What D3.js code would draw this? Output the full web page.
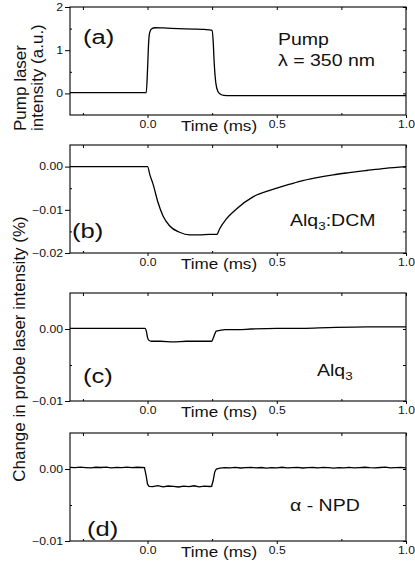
<!DOCTYPE html>
<html>
<head>
<meta charset="utf-8">
<script src="https://cdn.jsdelivr.net/npm/d3@7"></script>
<style>
body { margin: 0; background: #fff; }
svg { display: block; font-family: "Liberation Sans", Arial, sans-serif; }
</style>
</head>
<body>
<div id="chart"></div>
<script>

// shared time axis (ms)
var timeTicks = [0, 0.5, 1.0]
var timeMinor = [-0.25, 0.25, 0.75]

// (a) pump laser intensity, a.u.
var pumpT = [-0.3, -0.005, 0.0, 0.004, 0.008, 0.015, 0.03, 0.06, 0.12, 0.18, 0.22, 0.25, 0.254, 0.258, 0.264, 0.272, 0.282, 0.295, 0.32, 0.5, 1.0]
var pumpV = [0.02, 0.02, 0.55, 1.15, 1.4, 1.49, 1.52, 1.515, 1.5, 1.49, 1.48, 1.46, 1.2, 0.7, 0.25, 0.05, -0.02, -0.045, -0.05, -0.05, -0.05]

// (b) Alq3:DCM
var dcmT = [-0.3, 0.0, 0.01, 0.021, 0.04, 0.059, 0.085, 0.124, 0.163, 0.2, 0.24, 0.268, 0.279, 0.305, 0.344, 0.408, 0.473, 0.538, 0.589, 0.65, 0.718, 0.78, 0.848, 0.92, 1.0]
var dcmV = [0.0, 0.0, -0.0021, -0.004, -0.0082, -0.0113, -0.0137, -0.0152, -0.0158, -0.0158, -0.0157, -0.0157, -0.0144, -0.0121, -0.0098, -0.007, -0.0055, -0.0043, -0.0034, -0.0026, -0.0019, -0.0014, -0.0009, -0.0004, 0.0]

// (c) Alq3
var alqT = [-0.3, -0.2, -0.1, -0.01, -0.004, 0.0, 0.006, 0.015, 0.05, 0.1, 0.15, 0.2, 0.248, 0.254, 0.26, 0.266, 0.28, 0.3, 0.35, 0.4, 0.5, 0.6, 0.7, 0.85, 1.0]
var alqV = [0.0001, 0.0001, 0.0001, 0.0001, -0.0004, -0.0012, -0.0016, -0.0017, -0.0017, -0.0018, -0.0017, -0.0017, -0.0017, -0.0013, -0.0007, -0.0003, -0.0002, -0.0001, -0.0001, 0.0, 0.0001, 0.0001, 0.0002, 0.0003, 0.0003]

// (d) alpha-NPD
var npdT = [-0.3, -0.28, -0.26, -0.24, -0.22, -0.2, -0.18, -0.16, -0.14, -0.12, -0.1, -0.08, -0.06, -0.04, -0.02, -0.012,
    -0.006, 0.0, 0.006,
    0.02, 0.04, 0.06, 0.08, 0.1, 0.12, 0.14, 0.16, 0.18, 0.2, 0.22, 0.24,
    0.248, 0.254, 0.26, 0.266,
    0.28, 0.3, 0.32, 0.34, 0.36, 0.38, 0.4, 0.42, 0.44, 0.46, 0.48, 0.5, 0.52, 0.54, 0.56, 0.58, 0.6, 0.62, 0.64,
    0.66, 0.68, 0.7, 0.72, 0.74, 0.76, 0.78, 0.8, 0.82, 0.84, 0.86, 0.88, 0.9, 0.92, 0.94, 0.96, 0.98, 1.0]
var npdV = [0.00022, 0.00018, 0.00026, 0.0002, 0.00015, 0.00024, 0.00021, 0.00027, 0.00017, 0.00023, 0.0002, 0.00025, 0.00019, 0.00024, 0.00021, 0.0002,
    -0.0008, -0.0021, -0.0024,
    -0.00245, -0.0023, -0.00248, -0.00236, -0.00242, -0.0025, -0.00238, -0.00244, -0.00233, -0.00247, -0.00239, -0.00243,
    -0.0024, -0.0016, -0.0004, 0.0,
    0.00012, 0.0002, 0.00015, 0.00022, 0.00014, 0.00019, 0.00023, 0.00016, 0.00021, 0.00013, 0.0002, 0.00017, 0.00024, 0.00015, 0.00019, 0.00022, 0.00014, 0.00018, 0.00021,
    0.00016, 0.00023, 0.00019, 0.00012, 0.0002, 0.00017, 0.00022, 0.00015, 0.00019, 0.00024, 0.00018, 0.00016, 0.00021, 0.00026, 0.00017, 0.0002, 0.00023, 0.00016]

// y axes
var pumpTicks = [0, 1, 2], pumpMinor = [0.5, 1.5]
var dcmTicks = [-0.02, -0.01, 0.0], dcmMinor = [-0.015, -0.005]
var smallTicks = [-0.01, 0.0], smallMinor = [-0.005]

var width = 415
var height = 563
var left = 70, right = 406, panelH = 108
var stretch = 1.22   // the scan is wide, text looks stretched sideways

var panels = [
    {top: 7, t: pumpT, v: pumpV, dom: [-0.5, 2], ticks: pumpTicks, minor: pumpMinor, fmt: d3.format("d"), curve: d3.curveMonotoneX,
        tag: "(a)", tagX: 83, tagY: 44},
    {top: 145, t: dcmT, v: dcmV, dom: [-0.02, 0.005], ticks: dcmTicks, minor: dcmMinor, fmt: d3.format(".2f"), curve: d3.curveMonotoneX,
        tag: "(b)", tagX: 72, tagY: 238},
    {top: 293, t: alqT, v: alqV, dom: [-0.01, 0.005], ticks: smallTicks, minor: smallMinor, fmt: d3.format(".2f"), curve: d3.curveMonotoneX,
        tag: "(c)", tagX: 83, tagY: 383},
    {top: 433, t: npdT, v: npdV, dom: [-0.01, 0.005], ticks: smallTicks, minor: smallMinor, fmt: d3.format(".2f"), curve: d3.curveLinear,
        tag: "(d)", tagX: 87, tagY: 536}
]

var svg = d3.select("#chart").append("svg")
    .attr("width", width)
    .attr("height", height)

var x = d3.scaleLinear().domain([-0.3, 1.0]).range([left, right])

function wideText(g, str, px, py, size, anchor) {
    return g.append("text")
        .attr("transform", "translate(" + px + "," + py + ") scale(" + stretch + ",1)")
        .attr("font-size", size)
        .attr("text-anchor", anchor || "start")
        .attr("fill", "#111")
        .text(str)
}

panels.forEach(function(p) {
    var y = d3.scaleLinear().domain(p.dom).range([p.top + panelH, p.top])
    var g = svg.append("g")
    var bottom = p.top + panelH

    // left axis, labelled
    var la = g.append("g")
        .attr("transform", "translate(" + left + ",0)")
        .call(d3.axisLeft(y).tickValues(p.ticks).tickSize(5).tickPadding(2).tickFormat(p.fmt))
    la.select(".domain").remove()
    la.selectAll("text").attr("font-size", 10).attr("font-family", null).attr("fill", "#111")
        .attr("x", -7 / stretch).attr("transform", "scale(" + stretch + ",1)")
    g.append("g")
        .attr("transform", "translate(" + left + ",0)")
        .call(d3.axisRight(y).tickValues(p.minor).tickSize(2).tickFormat(""))
        .select(".domain").remove()

    // right axis, inward ticks
    g.append("g")
        .attr("transform", "translate(" + right + ",0)")
        .call(d3.axisLeft(y).tickValues(p.ticks.concat(p.minor)).tickSize(3).tickFormat(""))
        .select(".domain").remove()

    // bottom axis, labelled
    var ba = g.append("g")
        .attr("transform", "translate(0," + bottom + ")")
        .call(d3.axisBottom(x).tickValues(timeTicks).tickSize(3).tickPadding(3).tickFormat(d3.format(".1f")))
    ba.select(".domain").remove()
    ba.selectAll("text").attr("font-size", 10).attr("font-family", null).attr("fill", "#111")
        .attr("transform", "scale(" + stretch + ",1)")
    g.append("g")
        .attr("transform", "translate(0," + bottom + ")")
        .call(d3.axisTop(x).tickValues(timeMinor).tickSize(2).tickFormat(""))
        .select(".domain").remove()

    // top axis, inward ticks
    g.append("g")
        .attr("transform", "translate(0," + p.top + ")")
        .call(d3.axisBottom(x).tickValues(timeTicks.concat(timeMinor)).tickSize(3).tickFormat(""))
        .select(".domain").remove()

    g.append("rect")
        .attr("x", left).attr("y", p.top)
        .attr("width", right - left).attr("height", panelH)
        .attr("fill", "none").attr("stroke", "#000").attr("stroke-width", 1.1)

    var line = d3.line()
        .x(function(d, i) { return x(p.t[i]) })
        .y(function(d) { return y(d) })
        .curve(p.curve)

    g.append("path")
        .datum(p.v)
        .attr("d", line)
        .attr("fill", "none")
        .attr("stroke", "#000")
        .attr("stroke-width", 1.3)

    wideText(g, "Time (ms)", 219, bottom + 16, 14, "middle")
    wideText(g, p.tag, p.tagX, p.tagY, 21)
})

// panel notes
wideText(svg, "Pump", 278, 45, 16)
wideText(svg, "\u03bb = 350 nm", 278, 66, 16)

var n1 = wideText(svg, "Alq", 290, 226, 16)
n1.append("tspan").attr("font-size", 11).attr("dy", 4).text("3")
n1.append("tspan").attr("dy", -4).text(":DCM")

var n2 = wideText(svg, "Alq", 317, 376, 16)
n2.append("tspan").attr("font-size", 11).attr("dy", 4).text("3")

wideText(svg, "\u03b1 - NPD", 290, 511, 16)

// y titles
function vText(str, px, py, anchor) {
    svg.append("text")
        .attr("transform", "translate(" + px + "," + py + ") rotate(-90)")
        .attr("font-size", 17)
        .attr("text-anchor", anchor)
        .attr("fill", "#111")
        .text(str)
}
vText("Pump laser", 26, 131, "start")
vText("intensity (a.u.)", 43, 131, "start")
vText("Change in probe laser intensity (%)", 25, 349, "middle")

</script>
</body>
</html>
